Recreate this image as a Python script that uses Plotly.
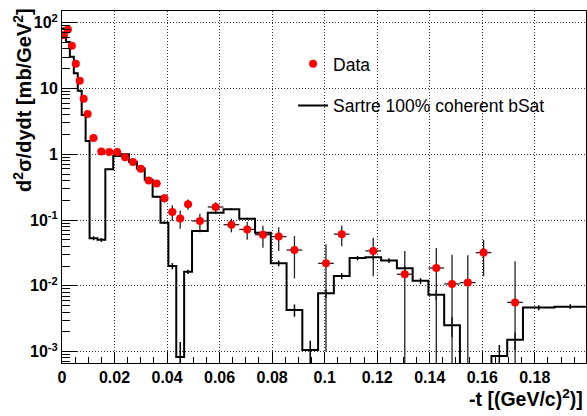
import plotly.graph_objects as go

# ---------------- data ----------------
data_t = [0.00075, 0.00225, 0.00375, 0.00525, 0.00675, 0.00825, 0.00975,
          0.012, 0.015, 0.018, 0.021, 0.024, 0.027, 0.030, 0.033, 0.036, 0.039,
          0.042, 0.045, 0.048,
          0.0525, 0.0585, 0.0645, 0.0705, 0.0765, 0.0825, 0.0885, 0.1005, 0.1065,
          0.1185, 0.1305, 0.1425, 0.1485, 0.1545, 0.1605, 0.1725]
data_y = [65, 79, 44.7, 23.8, 13.1, 7.0, 4.1,
          1.77, 1.10, 1.08, 1.08, 0.90, 0.76, 0.60, 0.40, 0.36, 0.215,
          0.133, 0.106, 0.174,
          0.097, 0.158, 0.085, 0.072, 0.060, 0.056, 0.035, 0.022, 0.061,
          0.034, 0.015, 0.0187, 0.0107, 0.0112, 0.032, 0.0056]
data_yerr = [2.0, 2.0, 1.5, 1.0, 0.6, 0.4, 0.25,
             0.06, 0.04, 0.04, 0.04, 0.035, 0.035, 0.03, 0.03, 0.03, 0.03,
             0.035, 0.032, 0.031,
             0.028, 0.028, 0.02, 0.022, 0.022, 0.022, 0.022, 0.021, 0.021,
             0.020, 0.019, 0.019, 0.019, 0.018, 0.018, 0.018]
data_xerr = [0.00075, 0.00075, 0.00075, 0.00075, 0.00075, 0.00075, 0.00075,
             0.0015, 0.0015, 0.0015, 0.0015, 0.0015, 0.0015, 0.0015, 0.0015, 0.0015, 0.0015,
             0.0015, 0.0015, 0.0015,
             0.003, 0.003, 0.003, 0.003, 0.003, 0.003, 0.003, 0.003, 0.003,
             0.003, 0.003, 0.003, 0.003, 0.003, 0.003, 0.003]

# Sartre histogram (variable bins)
hist_edges = [0, 0.0015, 0.003, 0.0045, 0.006, 0.0075, 0.009, 0.0105,
              0.0135, 0.0165, 0.0195, 0.0225, 0.0255, 0.0285, 0.0315, 0.0345,
              0.0375, 0.0405, 0.0435, 0.0465, 0.0495,
              0.0555, 0.0615, 0.0675, 0.0735, 0.0795, 0.0855, 0.0915, 0.0975,
              0.1035, 0.1095, 0.1155, 0.1215, 0.1275, 0.1335, 0.1395, 0.1455,
              0.1515, 0.1575, 0.1635, 0.1695, 0.1755, 0.1875, 0.1995]
hist_vals = [82, 51, 30.4, 17.0, 9.2, 3.96, 1.59,
             0.053, 0.050, 0.59, 0.94, 1.0, 0.77, 0.61, 0.41, 0.227, 0.091,
             0.020, 0.00083, 0.0164,
             0.068, 0.129, 0.146, 0.105, 0.064, 0.022, 0.0043, 0.00106, 0.0077,
             0.0141, 0.0265, 0.0272, 0.0242, 0.0185, 0.0119, 0.0073, 0.00252,
             0.0001, 0.0001, 0.00086, 0.00151, 0.00467, 0.00483]
hist_err = [1.5, 1.0, 0.6, 0.35, 0.2, 0.1, 0.05,
            0.0037, 0.0035, 0.01, 0.015, 0.015, 0.012, 0.01, 0.008, 0.006, 0.004,
            0.0022, 0.00057, 0.0012,
            0.003, 0.004, 0.004, 0.0035, 0.0025, 0.0022, 0.0009, 0.0004, 0.0011,
            0.0015, 0.002, 0.002, 0.002, 0.0017, 0.0012, 0.0013, 0.00085,
            0, 0, 0.0004, 0.00045, 0.0004, 0.0004]

y_tickvals = [1e-3, 1e-2, 1e-1, 1, 10, 100]
y_ticktext = ["10<sup>-3</sup>", "10<sup>-2</sup>", "10<sup>-1</sup>", "1", "10", "10<sup>2</sup>"]
x_tickvals = [0, 0.02, 0.04, 0.06, 0.08, 0.1, 0.12, 0.14, 0.16, 0.18]
x_ticktext = ["0", "0.02", "0.04", "0.06", "0.08", "0.1", "0.12", "0.14", "0.16", "0.18"]

FONT = "Liberation Sans, Arial, Helvetica, sans-serif"

hist_centers = [(a + b) / 2 for a, b in zip(hist_edges[:-1], hist_edges[1:])]
y_minor = [k * 10.0 ** e for e in range(-4, 3) for k in range(2, 10)]

fig = go.Figure()

# histogram step line
fig.add_trace(go.Scatter(
    x=hist_edges, y=hist_vals + [hist_vals[-1]],
    mode="lines", line=dict(color="black", width=2, shape="hv"),
    name="Sartre 100% coherent bSat", legendgroup="b", legendrank=2,
))
# histogram error bars
fig.add_trace(go.Scatter(
    x=hist_centers, y=hist_vals, mode="markers",
    marker=dict(size=0.1, color="black", opacity=0),
    error_y=dict(type="data", array=hist_err, color="black", thickness=1.5, width=0),
    showlegend=False, hoverinfo="skip",
))
# data
fig.add_trace(go.Scatter(
    x=data_t, y=data_y, mode="markers",
    marker=dict(size=8, color="#ff0000"),
    error_y=dict(type="data", array=data_yerr, color="#222222", thickness=1.3, width=0),
    error_x=dict(type="data", array=data_xerr, color="#222222", thickness=1.3, width=0),
    name="Data", legendgroup="a", legendrank=1,
))

fig.update_layout(
    width=587, height=416,
    margin=dict(l=62, r=1, t=11, b=53),
    paper_bgcolor="white", plot_bgcolor="white",
    font=dict(family=FONT, color="black"),
    showlegend=True,
    legend=dict(
        x=0.441, y=0.901, xanchor="left", yanchor="top",
        bgcolor="rgba(0,0,0,0)", borderwidth=0,
        font=dict(family=FONT, size=17.5, color="black"),
        traceorder="grouped", tracegroupgap=16,
    ),
    xaxis=dict(
        range=[0, 0.1995], tickmode="array", tickvals=x_tickvals, ticktext=x_ticktext,
        ticks="inside", ticklen=11, tickwidth=1, tickcolor="black",
        minor=dict(dtick=0.005, tick0=0, ticks="inside", ticklen=6, tickcolor="black", showgrid=False),
        showgrid=True, gridcolor="#333333", gridwidth=1, griddash="1px,2px",
        showline=True, linecolor="black", linewidth=1, mirror=True,
        zeroline=False,
        tickfont=dict(family=FONT, size=16, weight="bold"),
    ),
    yaxis=dict(
        type="log", range=[-3.173, 2.178],
        tickmode="array", tickvals=y_tickvals, ticktext=y_ticktext,
        ticks="inside", ticklen=15, tickwidth=1, tickcolor="black",
        minor=dict(tickmode="array", tickvals=y_minor, ticks="inside", ticklen=8,
                   tickcolor="black", showgrid=False),
        showgrid=True, gridcolor="#333333", gridwidth=1, griddash="1px,2px",
        showline=True, linecolor="black", linewidth=1, mirror=True,
        zeroline=False,
        tickfont=dict(family=FONT, size=16, weight="bold"),
    ),
    shapes=[dict(type="rect", xref="paper", yref="paper",
                 x0=0.435, x1=0.754, y0=0.676, y1=0.909,
                 fillcolor="white", line=dict(width=0), layer="between")],
    annotations=[
        dict(text="d<sup>2</sup>σ/dydt [mb/GeV<sup>2</sup>]", textangle=-90,
             xref="paper", yref="paper", x=-0.0763, y=1.014,
             xanchor="center", yanchor="top", showarrow=False,
             font=dict(family=FONT, size=20, weight="bold")),
        dict(text="-t [(GeV/c)<sup>2</sup>)]",
             xref="paper", yref="paper", x=0.998, y=-0.0994,
             xanchor="right", yanchor="middle", showarrow=False,
             font=dict(family=FONT, size=19.5, weight="bold")),
    ],
)

fig.write_html("out.html")
